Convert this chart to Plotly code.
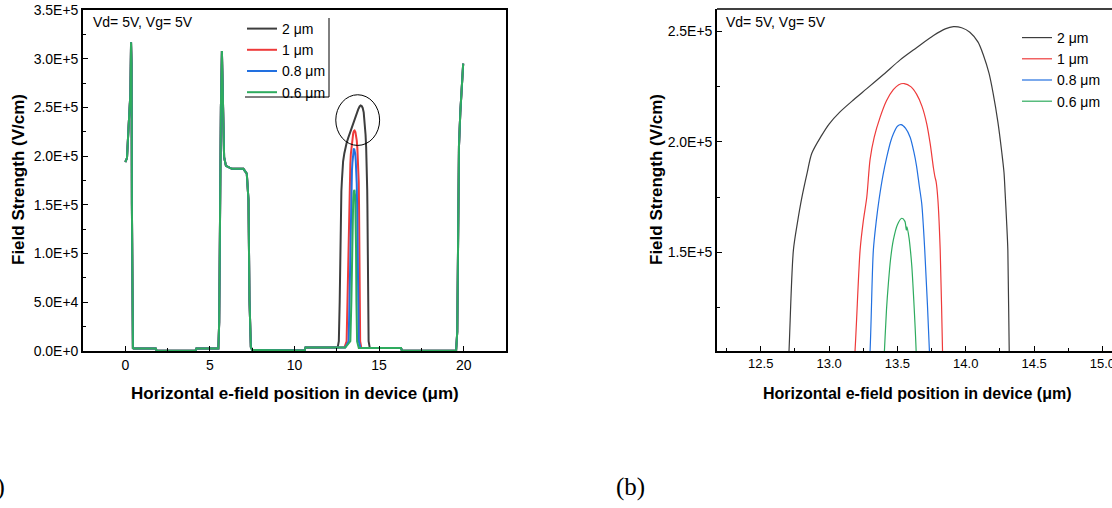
import plotly.graph_objects as go

# ---------------- data ----------------
series_names = ["2 \u03bcm", "1 \u03bcm", "0.8 \u03bcm", "0.6 \u03bcm"]
series_colors = ["#3d3d3d", "#ee3a3a", "#2270e0", "#2eab5e"]

# common part before the gate-edge peak (x in um, field in V/cm)
common_left_x = [0, 0.1, 0.2, 0.3, 0.34, 0.37, 0.39, 0.41, 0.45, 0.5, 1.8, 1.85, 4.15, 4.2, 5.5,
                 5.55, 5.6, 5.65, 5.71, 5.77, 5.84, 5.95, 6.1, 6.3, 6.98, 7.18, 7.28, 7.34, 7.42,
                 7.5, 10.6, 10.65]
common_left_y = [1.94e5, 1.98e5, 2.32e5, 2.64e5, 3.17e5, 2.95e5, 1.5e5, 2e4, 3e3, 2.5e3, 2.5e3, 300,
                 300, 2.5e3, 2.5e3, 3e4, 1.5e5, 2.5e5, 3.08e5, 2.58e5, 1.99e5, 1.9e5, 1.885e5, 1.87e5,
                 1.87e5, 1.82e5, 1.55e5, 5.2e4, 4e3, 1e3, 500, 3.5e3]

# common part after the peak
common_right_x = [14.5, 16.3, 16.35, 19.55, 19.62, 19.66, 19.68, 19.72, 19.8, 19.9, 19.97]
common_right_y = [3e3, 3e3, 300, 300, 2e4, 8e4, 1.6e5, 2.1e5, 2.45e5, 2.75e5, 2.95e5]

# peak region, one per channel length
peak_2um_x = [12.55, 12.62, 12.67, 12.707, 12.739, 12.77, 12.80, 12.84, 12.873, 12.947, 13.0, 13.08,
              13.18, 13.276, 13.40, 13.52, 13.64, 13.764, 13.85, 13.91, 13.97, 14.03, 14.09, 14.13,
              14.17, 14.20, 14.235, 14.264, 14.28, 14.288, 14.298, 14.308, 14.318, 14.34, 14.38, 14.45]
peak_2um_y = [3.5e3, 1e4, 5e4, 1.055e5, 1.51e5, 1.64e5, 1.745e5, 1.86e5, 1.947e5, 2.03e5, 2.08e5,
              2.135e5, 2.19e5, 2.24e5, 2.305e5, 2.37e5, 2.425e5, 2.48e5, 2.51e5, 2.52e5, 2.515e5,
              2.495e5, 2.45e5, 2.39e5, 2.31e5, 2.22e5, 2.09e5, 1.95e5, 1.86e5, 1.77e5, 1.65e5,
              1.51e5, 1.055e5, 5e4, 1e4, 3e3]

peak_1um_x = [12.95, 13.08, 13.13, 13.19, 13.227, 13.25, 13.276, 13.30, 13.33, 13.373, 13.42, 13.47,
              13.51, 13.55, 13.60, 13.64, 13.68, 13.715, 13.74, 13.764, 13.775, 13.783, 13.796, 13.813,
              13.83, 13.85, 13.88, 13.95]
peak_1um_y = [3.5e3, 1e4, 5e4, 1.055e5, 1.51e5, 1.64e5, 1.75e5, 1.92e5, 2.02e5, 2.11e5, 2.185e5,
              2.235e5, 2.258e5, 2.263e5, 2.248e5, 2.215e5, 2.16e5, 2.08e5, 1.99e5, 1.88e5, 1.84e5,
              1.82e5, 1.74e5, 1.51e5, 1.055e5, 5e4, 1e4, 3e3]

peak_08um_x = [13.0, 13.2, 13.25, 13.30, 13.324, 13.345, 13.366, 13.395, 13.422, 13.45, 13.47, 13.50,
               13.527, 13.56, 13.593, 13.62, 13.64, 13.66, 13.678, 13.70, 13.734, 13.76, 13.80, 13.9]
peak_08um_y = [3.5e3, 1e4, 5e4, 1.055e5, 1.51e5, 1.64e5, 1.74e5, 1.85e5, 1.93e5, 2.0e5, 2.035e5,
               2.07e5, 2.077e5, 2.06e5, 2.02e5, 1.955e5, 1.89e5, 1.8e5, 1.72e5, 1.51e5, 1.055e5,
               5e4, 1e4, 3e3]

peak_06um_x = [13.0, 13.3, 13.36, 13.405, 13.42, 13.434, 13.45, 13.47, 13.50, 13.532, 13.555, 13.565,
               13.57, 13.585, 13.595, 13.605, 13.62, 13.637, 13.66, 13.70, 13.8]
peak_06um_y = [3.5e3, 1e4, 5e4, 1.055e5, 1.24e5, 1.36e5, 1.47e5, 1.555e5, 1.625e5, 1.654e5, 1.64e5,
               1.6e5, 1.615e5, 1.565e5, 1.51e5, 1.44e5, 1.28e5, 1.055e5, 5e4, 1e4, 3e3]

peak_x = [peak_2um_x, peak_1um_x, peak_08um_x, peak_06um_x]
peak_y = [peak_2um_y, peak_1um_y, peak_08um_y, peak_06um_y]

# tick labels
left_xticks = [0, 5, 10, 15, 20]
left_yticks = [0, 5e4, 1e5, 1.5e5, 2e5, 2.5e5, 3e5, 3.5e5]
left_ytext = ["0.0E+0", "5.0E+4", "1.0E+5", "1.5E+5", "2.0E+5", "2.5E+5", "3.0E+5", "3.5E+5"]
right_xticks = [12.5, 13.0, 13.5, 14.0, 14.5, 15.0]
right_xtext = ["12.5", "13.0", "13.5", "14.0", "14.5", "15.0"]
right_yticks = [1.5e5, 2e5, 2.5e5]
right_ytext = ["1.5E+5", "2.0E+5", "2.5E+5"]

annot_text = "Vd= 5V, Vg= 5V"
x_title = "Horizontal e-field position in device (\u03bcm)"
y_title = "Field Strength (V/cm)"

# ---------------- figure ----------------
W, H = 1112, 508
def px(x):
    return x / W
def py(y):
    return 1 - y / H

FONT = "Arial, Liberation Sans, sans-serif"

fig = go.Figure()
for i, name in enumerate(series_names):
    xs = common_left_x + peak_x[i] + common_right_x
    ys = common_left_y + peak_y[i] + common_right_y
    fig.add_trace(go.Scatter(x=xs, y=ys, mode="lines", name=name,
                             line=dict(color=series_colors[i], width=2),
                             xaxis="x", yaxis="y", legend="legend"))
for i, name in enumerate(series_names):
    xs = common_left_x + peak_x[i] + common_right_x
    ys = common_left_y + peak_y[i] + common_right_y
    fig.add_trace(go.Scatter(x=xs, y=ys, mode="lines", name=name,
                             line=dict(color=series_colors[i], width=1.2, shape="spline", smoothing=0.8),
                             xaxis="x2", yaxis="y2", legend="legend2"))

axis_common = dict(showgrid=False, zeroline=False, showline=True, linecolor="#000000",
                   ticks="inside", ticklen=5, tickcolor="#000000", tickwidth=1.2, automargin=False,
                   ticklabeloverflow="allow",
                   tickfont=dict(family=FONT, size=14, color="#000000"))

fig.update_layout(
    width=W, height=H,
    margin=dict(l=0, r=0, t=0, b=0, pad=0, autoexpand=False),
    paper_bgcolor="white", plot_bgcolor="white",
    xaxis=dict(**axis_common, domain=[px(83), px(506)], range=[-2.5, 22.5], anchor="y",
               tickvals=left_xticks, linewidth=1.6, mirror=True,
               minor=dict(dtick=2.5, tick0=0, ticks="inside", ticklen=3, tickcolor="#000000")),
    yaxis=dict(**axis_common, domain=[py(351), py(10)], range=[0, 3.5e5], anchor="x",
               tickvals=left_yticks, ticktext=left_ytext, linewidth=1.6, mirror=True,
               minor=dict(dtick=2.5e4, tick0=0, ticks="inside", ticklen=3, tickcolor="#000000")),
    xaxis2=dict(**axis_common, domain=[px(717), 1.0], range=[12.18, 15.07], anchor="y2",
                tickvals=right_xticks, ticktext=right_xtext, linewidth=1.6,
                minor=dict(dtick=0.25, tick0=12.0, ticks="inside", ticklen=3, tickcolor="#000000")),
    yaxis2=dict(**axis_common, domain=[py(351), py(9)], range=[1.054e5, 2.6e5], anchor="x2",
                tickvals=right_yticks, ticktext=right_ytext, linewidth=1.6,
                minor=dict(dtick=2.5e4, tick0=0, ticks="inside", ticklen=3, tickcolor="#000000")),
    legend=dict(x=px(242), y=py(13), xanchor="left", yanchor="top",
                bgcolor="rgba(0,0,0,0)", borderwidth=0, tracegroupgap=0,
                font=dict(family=FONT, size=14, color="#000000")),
    legend2=dict(x=px(1017), y=py(22), xanchor="left", yanchor="top",
                 bgcolor="rgba(0,0,0,0)", borderwidth=0, tracegroupgap=0,
                 font=dict(family=FONT, size=14, color="#000000")),
    showlegend=True,
)
fig.update_xaxes(tickfont_size=13, selector=dict(anchor="y2"))

# legend box (bottom + right edges only) in left panel
fig.add_shape(type="line", xref="paper", yref="paper", x0=px(245), x1=px(329), y0=py(97), y1=py(97),
              line=dict(color="#000000", width=1))
fig.add_shape(type="line", xref="paper", yref="paper", x0=px(329), x1=px(329), y0=py(18), y1=py(97),
              line=dict(color="#000000", width=1))
# top frame of right panel
fig.add_shape(type="line", xref="x2 domain", yref="y2 domain", x0=0, x1=1, y0=1, y1=1,
              line=dict(color="#000000", width=1.6))
# circle highlighting the peak
fig.add_shape(type="circle", xref="x", yref="y", x0=12.44, x1=15.03, y0=2.11e5, y1=2.63e5,
              line=dict(color="#000000", width=1))

# text annotations
fig.add_annotation(text=annot_text, xref="paper", yref="paper", x=px(91), y=py(22),
                   xanchor="left", yanchor="middle", showarrow=False,
                   font=dict(family=FONT, size=14, color="#000000"))
fig.add_annotation(text=annot_text, xref="paper", yref="paper", x=px(724), y=py(22),
                   xanchor="left", yanchor="middle", showarrow=False,
                   font=dict(family=FONT, size=14, color="#000000"))
fig.add_annotation(text="<b>" + x_title + "</b>", xref="paper", yref="paper", x=px(294.5), y=py(393),
                   xanchor="center", yanchor="middle", showarrow=False,
                   font=dict(family=FONT, size=17, color="#000000"))
fig.add_annotation(text="<b>" + x_title + "</b>", xref="paper", yref="paper", x=px(917), y=py(393),
                   xanchor="center", yanchor="middle", showarrow=False,
                   font=dict(family=FONT, size=16, color="#000000"))
fig.add_annotation(text="<b>" + y_title + "</b>", xref="paper", yref="paper", x=px(18), y=py(180),
                   xanchor="center", yanchor="middle", showarrow=False, textangle=-90,
                   font=dict(family=FONT, size=17, color="#000000"))
fig.add_annotation(text="<b>" + y_title + "</b>", xref="paper", yref="paper", x=px(656), y=py(180),
                   xanchor="center", yanchor="middle", showarrow=False, textangle=-90,
                   font=dict(family=FONT, size=17, color="#000000"))
fig.add_annotation(text="(a)", xref="paper", yref="paper", x=px(7), y=py(487),
                   xanchor="right", yanchor="middle", showarrow=False,
                   font=dict(family="Liberation Serif, serif", size=25, color="#000000"))
fig.add_annotation(text="(b)", xref="paper", yref="paper", x=px(630.5), y=py(487),
                   xanchor="center", yanchor="middle", showarrow=False,
                   font=dict(family="Liberation Serif, serif", size=25, color="#000000"))

fig.write_html("out.html", config={"displayModeBar": False},
               post_script="document.body.style.margin='0';document.body.style.overflow='hidden';")
